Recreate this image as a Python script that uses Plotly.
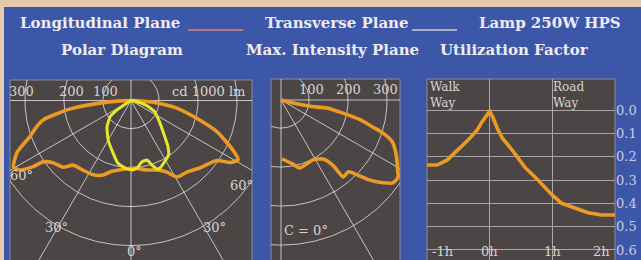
import numpy as np
import plotly.graph_objects as go

W, H = 641, 260

# ---------------- data ----------------
RINGS = [100, 200, 300, 400]                 # cd / 1000 lm circles
SPOKES_P1 = [-90, -60, -30, 0, 30, 60, 90, 180]
SPOKES_P2 = [0, 30, 60, 90, 180]

# Longitudinal plane (orange), angle from nadir (deg, + = right), cd/1000 lm
LONG_ANGLE = [-90, -88, -85, -82, -77.5, -74, -70.5, -65.5, -60.5, -58, -56, -55, -51.5,
              -45.5, -42, -35, -27, -20.5, -16.5, -9, 2, 13, 20.5, 26.5, 31, 38, 45.5,
              55, 58, 61, 64, 70, 74, 80.5, 84.5, 88, 90]
LONG_CD = [28, 54, 113, 187, 259, 282, 302, 349, 374, 364, 331, 302, 284,
           272, 251, 245, 242, 232, 219, 208, 201, 211, 218, 233, 257, 261, 275,
           296, 328, 342, 319, 263, 212, 147, 95, 49, 28]

# Transverse plane (yellow)
TRANS_ANGLE = [-62, -58, -56, -52, -42, -30, -19, -12, -5, 1, 5, 10, 15, 18, 21, 23.5,
               27, 34.5, 39, 45, 50, 57, 65, 72, 80, 85]
TRANS_CD = [28, 40, 71, 96, 120, 145, 170, 192, 202, 206, 202, 188, 186, 202, 216, 216,
            210, 198, 178, 146, 128, 110, 95, 70, 40, 28]

# Max. intensity plane, C = 0 deg (orange)
MAXI_ANGLE = [76, 76, 78, 80, 78, 76, 73.5, 72, 69.5, 66.5, 62.5, 59, 56.5, 53.5, 51, 48,
              45.5, 43, 39, 38.5, 35.5, 28, 15.5, 10.5, 1]
MAXI_CD = [28, 60, 104, 148, 190, 237, 274, 303, 332, 347, 363, 377, 388, 385, 365, 335,
           302, 280, 282, 241, 214, 202, 209, 195, 179]

# Utilization factor
UF_X = [-1.0, -0.84, -0.68, -0.505, -0.345, -0.2, -0.12, 0.0, 0.05, 0.12, 0.2, 0.36,
        0.56, 0.77, 1.0, 1.15, 1.36, 1.57, 1.79, 2.0]
UF_Y = [0.236, 0.236, 0.215, 0.172, 0.129, 0.086, 0.05, 0.005, 0.03, 0.077, 0.12, 0.172,
        0.245, 0.30, 0.365, 0.40, 0.42, 0.44, 0.45, 0.45]
UF_TICKS = [0.0, 0.1, 0.2, 0.3, 0.4, 0.5, 0.6]
HOUR_TICKS = [-1, 0, 1, 2]
HOUR_LABELS = ["-1h", "0h", "1h", "2h"]

# ---------------- style ----------------
TAN = "#e4caad"
BLUE = "#3c56a8"
GRAY = "#4b4546"
GRID = "rgba(222,218,216,0.85)"
ORANGE = "#ec9a24"
YELLOW = "#e8e628"
TXT = "#efebf3"
LBL = "#d8d4d2"
SERIF = "DejaVu Serif"

R0 = 28.0     # radial origin of the diagram scale
S = 0.39      # pixels per cd/klm


def polar_xy(angle, cd):
    rho = np.maximum(np.asarray(cd, float) - R0, 0)
    t = np.radians(np.asarray(angle, float))
    return rho * np.sin(t), -rho * np.cos(t)


def px(x):
    return x / W


def py(y):
    return 1 - y / H


fig = go.Figure()

# polar grids
for xa, ya, spokes in (("x", "y", SPOKES_P1), ("x2", "y2", SPOKES_P2)):
    th = np.linspace(0, 360, 361)
    for r in RINGS:
        gx, gy = polar_xy(th, np.full_like(th, r))
        fig.add_trace(go.Scatter(x=gx, y=gy, mode="lines", xaxis=xa, yaxis=ya,
                                 line=dict(color=GRID, width=1), hoverinfo="skip"))
    for a in spokes:
        gx, gy = polar_xy([a, a], [R0, 1200])
        fig.add_trace(go.Scatter(x=gx, y=gy, mode="lines", xaxis=xa, yaxis=ya,
                                 line=dict(color=GRID, width=1), hoverinfo="skip"))

lx, ly = polar_xy(LONG_ANGLE, LONG_CD)
fig.add_trace(go.Scatter(x=lx, y=ly, mode="lines", line=dict(color=ORANGE, width=3.6,
                                                              shape="spline", smoothing=0.6)))
tx, ty = polar_xy(TRANS_ANGLE, TRANS_CD)
fig.add_trace(go.Scatter(x=tx, y=ty, mode="lines", line=dict(color=YELLOW, width=3,
                                                              shape="spline", smoothing=0.4)))
mx, my = polar_xy(MAXI_ANGLE, MAXI_CD)
fig.add_trace(go.Scatter(x=mx, y=my, mode="lines", xaxis="x2", yaxis="y2",
                         line=dict(color=ORANGE, width=3.6, shape="spline", smoothing=0.6)))

fig.add_trace(go.Scatter(x=UF_X, y=UF_Y, mode="lines", xaxis="x3", yaxis="y3",
                         line=dict(color=ORANGE, width=3.6)))

hidden = dict(showgrid=False, zeroline=False, showticklabels=False, ticks="",
              showline=False, fixedrange=True)

# panel geometry (pixels)
P1 = dict(x0=10, x1=252, y0=80, cx=131, cy=100.5)
P2 = dict(x0=271, x1=400, y0=79, cx=281, cy=100)
P3 = dict(x0=427, x1=615, y0=79)

fig.update_layout(
    width=W, height=H, margin=dict(l=0, r=0, t=0, b=0),
    paper_bgcolor=TAN, plot_bgcolor="rgba(0,0,0,0)", showlegend=False,
    xaxis=dict(domain=[px(P1["x0"]), px(P1["x1"])],
               range=[(P1["x0"] - P1["cx"]) / S, (P1["x1"] - P1["cx"]) / S], **hidden),
    yaxis=dict(domain=[0, py(P1["y0"])],
               range=[(P1["cy"] - H) / S, (P1["cy"] - P1["y0"]) / S], **hidden),
    xaxis2=dict(domain=[px(P2["x0"]), px(P2["x1"])],
                range=[(P2["x0"] - P2["cx"]) / S, (P2["x1"] - P2["cx"]) / S], **hidden),
    yaxis2=dict(domain=[0, py(P2["y0"])],
                range=[(P2["cy"] - H) / S, (P2["cy"] - P2["y0"]) / S], **hidden),
    xaxis3=dict(domain=[px(P3["x0"]), px(P3["x1"])], range=[-1, 2], tickvals=HOUR_TICKS,
                showticklabels=False, ticks="", showgrid=True, gridcolor="#aaa6a6",
                gridwidth=1, zeroline=False, showline=False, fixedrange=True),
    yaxis3=dict(domain=[0, py(P3["y0"])], range=[0.643, -0.133], tickvals=UF_TICKS,
                tickformat=".1f", side="right", anchor="x3", ticks="", showgrid=True,
                gridcolor="#aaa6a6", gridwidth=1, zeroline=False, showline=False,
                tickfont=dict(family=SERIF, size=13, color="#c9cde8"),
                automargin=False, fixedrange=True),
)

shapes = [
    dict(type="rect", xref="paper", yref="paper", x0=px(4), x1=1, y0=0, y1=py(7),
         fillcolor=BLUE, line=dict(width=0), layer="below"),
]
for P in (P1, P2, P3):
    shapes.append(dict(type="rect", xref="paper", yref="paper", x0=px(P["x0"]),
                       x1=px(P["x1"]), y0=-0.01, y1=py(P["y0"]), fillcolor=GRAY,
                       line=dict(color="#8e8a90", width=1), layer="below"))
# legend strokes in the heading
shapes.append(dict(type="line", xref="paper", yref="paper", x0=px(188), x1=px(243),
                   y0=py(30), y1=py(30), line=dict(color="#d48a6e", width=1.5)))
shapes.append(dict(type="line", xref="paper", yref="paper", x0=px(412), x1=px(457),
                   y0=py(30), y1=py(30), line=dict(color="#d2cad0", width=1.5)))
fig.update_layout(shapes=shapes)

ann = []


def add_text(text, x, y, size=13, color=LBL, xanchor="center", bold=False, yanchor="middle"):
    ann.append(dict(text=f"<b>{text}</b>" if bold else text, x=px(x), y=py(y),
                    xref="paper", yref="paper", xanchor=xanchor, yanchor=yanchor,
                    showarrow=False, align="left",
                    font=dict(family=SERIF, size=size, color=color)))


# headings
add_text("Longitudinal Plane", 18, 22.5, 15, TXT, "left", True)
add_text("Transverse Plane", 263, 22.5, 15, TXT, "left", True)
add_text("Lamp 250W HPS", 477, 22.5, 15, TXT, "left", True)
add_text("Polar Diagram", 121.5, 50, 15, TXT, "center", True)
add_text("Max. Intensity Plane", 332, 50, 15, TXT, "center", True)
add_text("Utilization Factor", 514, 50, 15, TXT, "center", True)

# panel 1 labels
add_text("300", 21, 91)
add_text("200", 71, 91)
add_text("100", 105, 91)
add_text("cd 1000 lm", 208, 91)
add_text("60°", 21, 175)
add_text("60°", 241, 185)
add_text("30°", 56, 227)
add_text("30°", 214, 227)
add_text("0°", 134, 251)
# panel 2 labels
add_text("100", 311, 89)
add_text("200", 348, 89)
add_text("300", 385, 89)
add_text("C = 0°", 306, 230)
# panel 3 labels
add_text("Walk<br>Way", 428, 78, size=12, xanchor="left", yanchor="top")
add_text("Road<br>Way", 551, 78, size=12, xanchor="left", yanchor="top")
for v, lab in zip(HOUR_TICKS, HOUR_LABELS):
    xp = P3["x0"] + (v + 1) / 3 * (P3["x1"] - P3["x0"])
    if v == HOUR_TICKS[0]:
        add_text(lab, xp + 3, 251, xanchor="left")
    elif v == HOUR_TICKS[-1]:
        add_text(lab, xp - 3, 251, xanchor="right")
    else:
        add_text(lab, xp, 251)

fig.update_layout(annotations=ann)
fig.write_html("out.html", config={"displayModeBar": False},
               post_script="document.body.style.margin='0';")
